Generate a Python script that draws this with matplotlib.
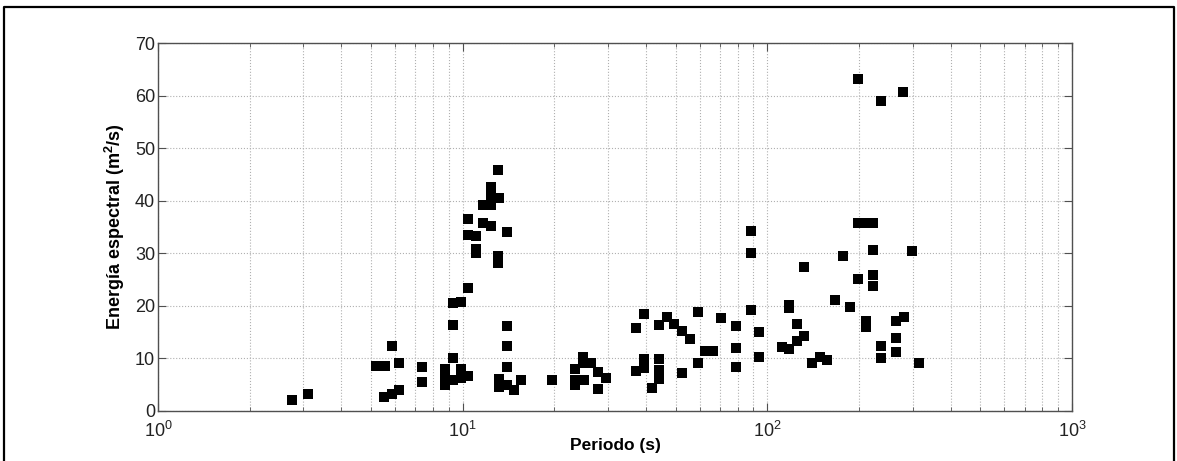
import matplotlib
matplotlib.use("Agg")
import matplotlib.pyplot as plt
from matplotlib.lines import Line2D
from matplotlib.ticker import LogLocator, NullFormatter, MultipleLocator

plt.rcParams['font.family'] = ['Liberation Sans', 'DejaVu Sans']
plt.rcParams['mathtext.fontset'] = 'custom'
plt.rcParams['mathtext.rm'] = 'Liberation Sans'
plt.rcParams['mathtext.it'] = 'Liberation Sans:italic'
plt.rcParams['mathtext.bf'] = 'Liberation Sans:bold'

# Period (s)
periodo = [
    2.75, 3.1,
    5.19, 5.56, 5.85, 6.19, 5.53, 5.85, 6.19,
    7.37, 7.37,
    8.75, 8.75, 8.75, 9.27, 9.27, 9.27, 9.27, 9.85, 9.85, 9.85, 10.4, 10.4,
    10.4, 10.4, 11.06, 11.06, 11.06, 11.68, 11.68, 12.39, 12.39, 12.39, 12.39,
    13.2, 13.09, 13.09, 13.09, 13.95, 13.95, 13.95, 13.95, 13.95,
    13.15, 13.15, 14.73, 15.6, 19.7,
    23.4, 23.4, 23.4, 24.8, 24.8, 25.0, 26.4, 27.9, 27.9, 29.5,
    37.2, 39.4, 37.2, 39.4, 39.4, 41.9, 44.2, 46.7, 44.2, 44.2, 44.2,
    49.5, 52.6, 55.7, 52.6, 59.0, 59.0, 62.4, 66.4, 70.3, 78.7, 78.7, 78.7,
    88.3, 88.3, 88.3, 93.9, 93.9,
    118, 118, 111.4, 118, 124.7, 124.7, 132, 132, 139.8, 148.8, 157.3,
    166.7, 176.7, 186.8, 197.8, 197.8, 210.7, 222.7, 222.7, 222.7, 222.7,
    210.2, 210.2, 236, 236, 264, 264, 264,
    198.7, 236, 279, 297.5, 280.7, 315,
]

# Spectral energy (m^2/s)
energia = [
    2.1, 3.2,
    8.6, 8.6, 12.4, 9.2, 2.6, 3.2, 3.9,
    8.4, 5.5,
    7.9, 6.0, 4.9, 10.1, 16.4, 20.5, 5.9, 20.8, 8.0, 6.2, 6.7, 23.3,
    36.5, 33.5, 33.2, 30.9, 30.0, 39.2, 35.8, 42.7, 41.1, 39.2, 35.2,
    40.6, 45.8, 29.5, 28.1, 34.1, 16.2, 12.4, 8.4, 4.9,
    6.0, 4.5, 4.0, 5.9, 5.9,
    7.9, 5.9, 4.9, 10.3, 9.1, 5.9, 9.2, 7.5, 4.1, 6.2,
    15.8, 18.4, 7.6, 9.9, 8.1, 4.3, 16.4, 17.9, 9.9, 7.8, 6.1,
    16.5, 15.3, 13.6, 7.2, 18.9, 9.1, 11.4, 11.4, 17.6, 16.2, 12.0, 8.3,
    34.3, 30.1, 19.3, 15.0, 10.2,
    20.2, 19.5, 12.2, 11.7, 16.5, 13.4, 14.3, 27.3, 9.2, 10.2, 9.7,
    21.1, 29.5, 19.8, 25.1, 35.8, 35.8, 35.8, 30.6, 25.9, 23.8,
    17.1, 16.0, 12.4, 10.0, 17.2, 13.8, 11.2,
    63.1, 59.0, 60.6, 30.4, 17.9, 9.2,
]

fig = plt.figure(figsize=(11.77, 4.61), dpi=100)
# outer frame (left, top, right; bottom lies outside the picture)
fx = [0.0035, 0.0035, 0.9975, 0.9975]
fy = [0.0, 0.985, 0.985, 0.0]
fig.add_artist(Line2D(fx, fy, transform=fig.transFigure, color='black', linewidth=1.6))

ax = fig.add_axes([0.1342, 0.1085, 0.7766, 0.7982])
ax.set_xscale('log')
ax.scatter(periodo, energia, marker='s', s=62, color='black', zorder=3, linewidths=0)

ax.set_xlim(1, 1000)
ax.set_ylim(0, 70)
ax.yaxis.set_major_locator(MultipleLocator(10))
ax.xaxis.set_major_locator(LogLocator(base=10, numticks=10))
ax.xaxis.set_minor_locator(LogLocator(base=10, subs=range(2, 10), numticks=20))
ax.xaxis.set_minor_formatter(NullFormatter())

ax.grid(True, which='major', axis='both', linestyle=':', color='#b0b0b0', linewidth=0.8)
ax.grid(True, which='minor', axis='x', linestyle=':', color='#b0b0b0', linewidth=0.8)
ax.set_axisbelow(True)

for sp in ax.spines.values():
    sp.set_color('#505050')
    sp.set_linewidth(1.0)

ax.tick_params(which='both', direction='in', top=True, right=True, colors='#505050',
               labelcolor='#222222', labelsize=13)
ax.tick_params(which='major', length=6)
ax.tick_params(which='minor', length=3)
ax.tick_params(axis='y', pad=2)
ax.tick_params(axis='x', pad=7)

ax.set_xlabel('Periodo (s)', fontsize=12.5, fontweight='bold', labelpad=-2)
ax.set_ylabel('Energía espectral (m$^\\mathbf{2}$/s)', fontsize=13, fontweight='bold', labelpad=6)

fig.savefig('out.png', dpi=100)
